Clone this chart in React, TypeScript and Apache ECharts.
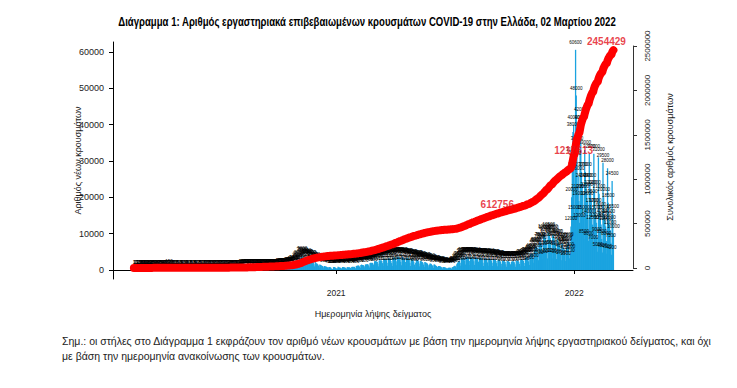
import React, { useEffect, useRef } from "react";
import * as echarts from "echarts";

const FONT = '"Liberation Sans", Arial, sans-serif';

const titleText =
  "Διάγραμμα 1: Αριθμός εργαστηριακά επιβεβαιωμένων κρουσμάτων COVID-19 στην Ελλάδα, 02 Μαρτίου 2022";
const xAxisTitle = "Ημερομηνία λήψης δείγματος";
const leftAxisTitle = "Αριθμός νέων κρουσμάτων";
const rightAxisTitle = "Συνολικός αριθμός κρουσμάτων";
const noteLines = [
  "Σημ.: οι στήλες στο Διάγραμμα 1 εκφράζουν τον αριθμό νέων κρουσμάτων με βάση την ημερομηνία λήψης εργαστηριακού δείγματος, και όχι",
  "με βάση την ημερομηνία ανακοίνωσης των κρουσμάτων.",
];

// first day of the daily series (Wednesday)
const firstSampleDate = "2020-02-26";

// daily new cases by sample date, one row per week (Wed..Tue)
const dailyNewCases: number[] = [
  1, 1, 2, 0, 0, 3, 2,
  10, 15, 20, 25, 15, 30, 40,
  45, 50, 60, 70, 40, 80, 90,
  100, 95, 90, 80, 60, 100, 95,
  90, 85, 80, 70, 50, 90, 100,
  95, 90, 80, 60, 40, 70, 75,
  60, 55, 50, 40, 25, 45, 40,
  30, 25, 20, 15, 10, 150, 30,
  25, 20, 15, 10, 8, 20, 15,
  12, 10, 10, 8, 5, 12, 10,
  10, 12, 8, 6, 4, 10, 15,
  12, 10, 10, 6, 4, 8, 10,
  10, 12, 10, 8, 5, 10, 12,
  15, 10, 8, 6, 4, 10, 12,
  12, 15, 10, 8, 5, 10, 12,
  10, 12, 15, 10, 6, 15, 20,
  20, 25, 20, 15, 8, 20, 25,
  15, 18, 20, 12, 8, 15, 20,
  20, 15, 18, 15, 10, 20, 25,
  25, 30, 25, 20, 12, 25, 30,
  30, 25, 30, 20, 12, 30, 35,
  35, 40, 35, 25, 15, 40, 50,
  60, 65, 70, 50, 30, 90, 100,
  110, 120, 130, 100, 60, 150, 160,
  170, 180, 190, 150, 90, 220, 240,
  230, 250, 240, 200, 110, 260, 270,
  260, 270, 250, 200, 110, 270, 280,
  270, 280, 260, 200, 120, 300, 310,
  300, 320, 310, 250, 130, 330, 340,
  340, 350, 330, 260, 140, 350, 360,
  350, 360, 340, 270, 150, 380, 400,
  390, 400, 380, 300, 170, 420, 450,
  450, 470, 450, 350, 200, 500, 550,
  600, 620, 580, 450, 250, 700, 750,
  850, 900, 900, 700, 400, 1100, 1200,
  1400, 1500, 1400, 1100, 700, 1900, 2200,
  2500, 2700, 2600, 2000, 1300, 3500, 3800,
  3600, 3400, 3100, 2400, 1500, 3300, 3100,
  3000, 2900, 2700, 2100, 1300, 2800, 2700,
  2400, 2300, 2100, 1600, 1000, 2200, 2000,
  1800, 1700, 1500, 1200, 700, 1500, 1400,
  1300, 1200, 1100, 900, 500, 1100, 1000,
  950, 900, 850, 700, 400, 850, 800,
  750, 650, 350, 250, 300, 800, 850,
  800, 550, 200, 500, 400, 900, 750,
  700, 650, 600, 450, 300, 800, 850,
  750, 700, 650, 500, 300, 750, 800,
  700, 750, 700, 550, 350, 850, 900,
  850, 900, 850, 650, 400, 1100, 1200,
  1200, 1250, 1150, 900, 550, 1400, 1500,
  1400, 1350, 1300, 1000, 600, 1500, 1600,
  1500, 1600, 1500, 1200, 700, 1900, 2000,
  1900, 2000, 1900, 1500, 900, 2400, 2500,
  2300, 2400, 2200, 1700, 1000, 2600, 2700,
  2600, 2700, 2500, 1900, 1100, 3000, 3100,
  2900, 3000, 2700, 2000, 1200, 3200, 3300,
  3100, 3000, 2500, 1900, 1100, 3300, 3400,
  3400, 3500, 3200, 2400, 1300, 3600, 3700,
  3500, 3400, 3100, 2300, 1300, 3500, 3600,
  3400, 3300, 3000, 2200, 1200, 3300, 3400,
  3200, 3100, 2800, 2000, 1100, 3000, 3100,
  2900, 2700, 2300, 1500, 800, 2000, 2800,
  2800, 2700, 2400, 1800, 1000, 2500, 2600,
  2300, 2200, 2000, 1500, 800, 2200, 2100,
  2000, 1900, 1700, 1300, 700, 1500, 1800,
  1700, 1600, 1400, 1100, 600, 1500, 1500,
  1300, 1200, 1100, 800, 450, 1100, 1100,
  1000, 950, 850, 650, 350, 850, 800,
  750, 700, 650, 500, 250, 500, 600,
  600, 650, 650, 500, 300, 750, 850,
  900, 1100, 1200, 1000, 600, 1600, 1900,
  2200, 2400, 2500, 2000, 1200, 3000, 3300,
  3400, 3500, 3300, 2600, 1500, 3600, 3700,
  3600, 3500, 3200, 2500, 1400, 3500, 3600,
  3500, 3400, 3100, 2400, 1400, 3400, 3500,
  3400, 3300, 3000, 2300, 1300, 3300, 3400,
  3300, 3200, 2900, 2000, 1100, 2900, 3300,
  3200, 3100, 2800, 2100, 1200, 3100, 3200,
  3000, 2900, 2600, 2000, 1100, 2900, 3000,
  2900, 2800, 2500, 1900, 1000, 2700, 2800,
  2700, 2600, 2300, 1700, 950, 2500, 2600,
  2500, 2400, 2200, 1600, 900, 2400, 2500,
  2400, 2300, 2100, 1600, 900, 2300, 2400,
  2400, 2350, 2100, 1600, 900, 2500, 2600,
  2600, 2500, 2300, 1700, 1000, 2800, 2900,
  2900, 2800, 2500, 1900, 1100, 3200, 3400,
  3500, 3600, 3300, 2400, 1400, 4000, 4300,
  4600, 3500, 4500, 3400, 2000, 5600, 6000,
  6300, 6400, 6000, 4600, 2700, 7200, 7600,
  7800, 7500, 7000, 5200, 3000, 9600, 10000,
  9200, 8700, 7800, 5600, 3200, 10200, 10500,
  9600, 8800, 7800, 5600, 3200, 9800, 9700,
  8800, 8000, 7200, 5200, 3000, 8600, 8400,
  7600, 7000, 6400, 4600, 2700, 7400, 7300,
  6200, 5900, 5600, 4200, 2500, 6300, 6600,
  7300, 7800, 5000, 3200, 4500, 12000, 20000,
  31000, 38000, 40000, 15000, 30000, 60600, 48000,
  34000, 21000, 26000, 19000, 13000, 42000, 40000,
  27000, 24000, 21000, 15000, 8500, 33000, 27000,
  24000, 21500, 19000, 14000, 8000, 32000, 24000,
  22000, 19500, 17000, 12500, 7000, 32000, 22000,
  17000, 15000, 13000, 9000, 5000, 31000, 21000,
  16000, 14000, 12500, 8500, 4800, 29500, 20000,
  15000, 13500, 12000, 8000, 4500, 28000, 18500,
  14000, 12500, 11000, 7500, 4200, 24500, 15500,
  10000,
];

// annotated cumulative totals
const totalLabelDates = ["2021-09-05", "2021-12-31", "2022-03-02"];
const totalLabelValues = [612756, 1217613, 2454429];

const yearTickDates = ["2021-01-01", "2022-01-01"];
const leftTickValues = [0, 10000, 20000, 30000, 40000, 50000, 60000];
const axisStartDate = "2020-01-25";
const axisEndDate = "2022-04-01";

function parseDay(s: string): number {
  const [y, m, d] = s.split("-").map(Number);
  return new Date(y, m - 1, d).getTime();
}
function dayAfterStart(offset: number): number {
  const [y, m, d] = firstSampleDate.split("-").map(Number);
  return new Date(y, m - 1, d + offset).getTime();
}

export default function App() {
  const ref = useRef<HTMLDivElement>(null);

  useEffect(() => {
    document.body.style.margin = "0";
    if (!ref.current) return;
    const chart = echarts.init(ref.current, undefined, { renderer: "svg" });

    const barData = dailyNewCases.map((v, i) => [dayAfterStart(i), v]);
    let running = 0;
    const cumData = dailyNewCases.map((v, i) => {
      running += v;
      return [dayAfterStart(i), running];
    });
    const lastIdx = totalLabelDates.length - 1;
    const totalLabels = totalLabelDates.map((d, i) => ({
      value: [parseDay(d), totalLabelValues[i]],
      label: i === lastIdx ? { offset: [-7, 1] } : undefined,
    }));
    const yearTicks = yearTickDates.map(parseDay);
    const xMin = parseDay(axisStartDate);
    const xMax = parseDay(axisEndDate);

    const option: any = {
      animation: false,
      textStyle: { fontFamily: FONT },
      grid: [
        { left: 113, right: 104, top: 42, bottom: 109 },
        { left: 113, right: 104, top: 46, bottom: 120 },
      ],
      xAxis: [
        {
          type: "value",
          gridIndex: 0,
          min: xMin,
          max: xMax,
          axisLine: { show: true, lineStyle: { color: "#000", width: 1 } },
          axisTick: { show: true, length: 4, customValues: yearTicks, lineStyle: { color: "#000" } },
          axisLabel: {
            customValues: yearTicks,
            formatter: (v: number) => String(new Date(v).getFullYear()),
            fontSize: 8.5,
            color: "#222",
            margin: 9,
            fontFamily: FONT,
          },
          splitLine: { show: false },
          name: xAxisTitle,
          nameLocation: "middle",
          nameGap: 30,
          nameMoveOverlap: false,
          nameTextStyle: { fontSize: 9, color: "#222", fontFamily: FONT },
        },
        { type: "value", gridIndex: 1, min: xMin, max: xMax, show: false, splitLine: { show: false } },
      ],
      yAxis: [
        {
          type: "value",
          gridIndex: 0,
          position: "left",
          min: -2477,
          max: 62752,
          axisLine: { show: true, lineStyle: { color: "#000" } },
          axisTick: { show: true, length: 4, customValues: leftTickValues, lineStyle: { color: "#000" } },
          axisLabel: {
            customValues: leftTickValues,
            formatter: (v: number) => String(v),
            fontSize: 9,
            color: "#222",
            margin: 9,
            fontFamily: FONT,
          },
          splitLine: { show: false },
          name: leftAxisTitle,
          nameLocation: "middle",
          nameRotate: 90,
          nameGap: 31,
          nameMoveOverlap: false,
          nameTextStyle: { fontSize: 9, color: "#222", fontFamily: FONT },
        },
        {
          type: "value",
          gridIndex: 1,
          position: "right",
          min: 0,
          max: 2500000,
          interval: 500000,
          axisLine: { show: true, lineStyle: { color: "#333" } },
          axisTick: { show: true, length: 4, lineStyle: { color: "#333" } },
          axisLabel: {
            rotate: 90,
            formatter: (v: number) => String(v),
            fontSize: 8,
            color: "#222",
            margin: 10,
            fontFamily: FONT,
          },
          splitLine: { show: false },
          name: rightAxisTitle,
          nameLocation: "middle",
          nameRotate: 90,
          nameGap: 32,
          nameMoveOverlap: false,
          nameTextStyle: { fontSize: 9, color: "#222", fontFamily: FONT },
        },
      ],
      series: [
        {
          type: "bar",
          xAxisIndex: 0,
          yAxisIndex: 0,
          data: barData,
          barWidth: 1.3,
          itemStyle: { color: "#1aa3e0" },
          label: {
            show: true,
            position: "top",
            distance: 5,
            fontSize: 4.5,
            color: "#000",
            fontFamily: FONT,
            formatter: (p: any) => String(p.value[1]),
          },
          z: 2,
          silent: true,
        },
        {
          type: "line",
          xAxisIndex: 1,
          yAxisIndex: 1,
          data: cumData,
          showSymbol: false,
          symbol: "none",
          clip: false,
          lineStyle: { color: "#ff0000", width: 8, cap: "round", join: "round" },
          z: 5,
          silent: true,
        },
        {
          type: "scatter",
          xAxisIndex: 1,
          yAxisIndex: 1,
          data: totalLabels,
          symbolSize: 1,
          itemStyle: { color: "rgba(0,0,0,0)" },
          label: {
            show: true,
            position: "top",
            distance: 4,
            color: "#e3101b",
            fontSize: 10,
            fontWeight: "bold",
            fontFamily: FONT,
            formatter: (p: any) => String(p.value[1]),
          },
          z: 6,
          silent: true,
        },
      ],
      graphic: [
        {
          type: "text",
          x: 367,
          y: 22,
          scaleX: 0.8,
          style: {
            text: titleText,
            fontSize: 12,
            fontWeight: "bold",
            fontFamily: FONT,
            fill: "#000",
            align: "center",
            verticalAlign: "middle",
          },
        },
        ...noteLines.map((t, i) => ({
          type: "text",
          x: 62,
          y: 341 + i * 15,
          scaleX: 1.0,
          style: { text: t, fontSize: 10.5, fontFamily: FONT, fill: "#222", verticalAlign: "middle" },
        })),
      ],
    };

    chart.setOption(option);
    return () => chart.dispose();
  }, []);

  return (
    <div
      ref={ref}
      style={{ position: "absolute", left: 0, top: 0, width: 737, height: 388, background: "#fff" }}
    />
  );
}
